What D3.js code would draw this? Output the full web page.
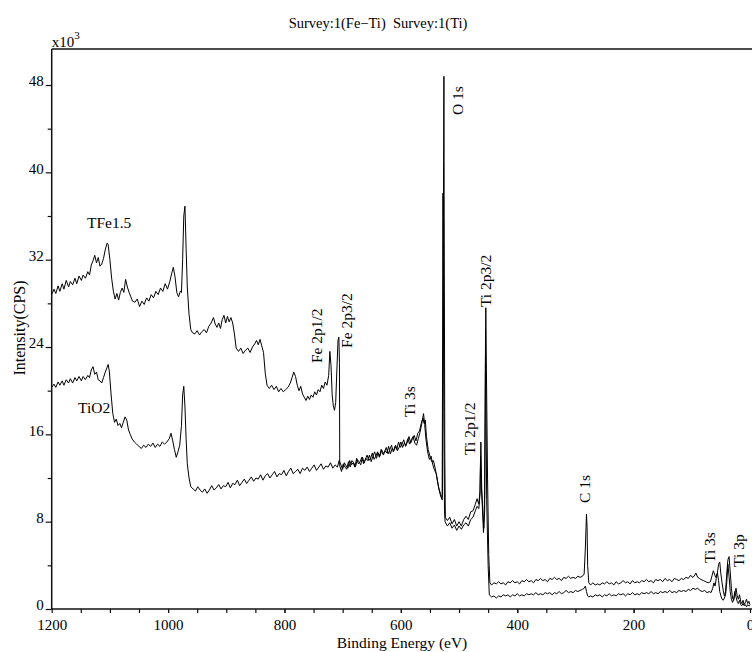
<!DOCTYPE html>
<html>
<head>
<meta charset="utf-8">
<script src="https://cdn.jsdelivr.net/npm/d3@7"></script>
<style>
  body { margin: 0; background: #fff; }
  svg text { font-family: "Liberation Serif", "Times New Roman", serif; fill: #000; }
</style>
</head>
<body>
<svg id="chart" width="752" height="652"></svg>
<script>
//axis ticks
var xMajor = [1200, 1000, 800, 600, 400, 200, 0];
var yMajor = [0, 8, 16, 24, 32, 40, 48];

//spectrum TFe1.5 : [binding energy (eV), intensity (x10^3 CPS)]
var tfe15 = [
  [1200, 28.8], [1196, 29.3], [1193, 28.9], [1189, 29.6], [1186, 29.1], [1182, 29.8], [1179, 29.3], [1175, 30.1],
  [1171, 29.5], [1168, 30.0], [1164, 29.7], [1160, 30.3], [1157, 29.8], [1153, 30.5], [1149, 30.1], [1146, 30.6],
  [1142, 30.3], [1138, 30.9], [1135, 30.6], [1132, 31.5], [1129, 31.9], [1126, 32.4], [1123, 31.7], [1120, 32.2],
  [1117, 31.4], [1114, 31.6], [1111, 32.1], [1108, 32.9], [1105, 33.5], [1103, 33.4], [1100, 32.0], [1097, 30.3],
  [1094, 29.1], [1091, 28.4], [1088, 28.9], [1085, 28.3], [1082, 29.0], [1079, 29.4], [1076, 29.0], [1073, 30.2],
  [1070, 29.5], [1067, 29.0], [1064, 28.6], [1061, 28.2], [1057, 28.1], [1053, 28.4], [1049, 27.7], [1045, 28.2],
  [1041, 27.9], [1037, 28.5], [1033, 28.2], [1029, 28.8], [1025, 28.5], [1021, 29.1], [1017, 28.8], [1013, 29.4],
  [1009, 29.1], [1005, 29.8], [1001, 29.3], [997, 30.0], [994, 30.7], [991, 31.3], [988, 30.4], [985, 29.0],
  [982, 28.6], [979, 29.1], [977, 29.0], [975, 32.0], [973, 36.0], [971, 36.9], [969, 33.0], [967, 29.5],
  [964, 27.0], [961, 25.6], [958, 25.3], [954, 25.2], [950, 25.5], [946, 25.1], [942, 25.4], [938, 25.6],
  [934, 25.3], [930, 25.9], [926, 26.2], [922, 26.7], [919, 26.1], [916, 25.8], [913, 26.2], [910, 25.7],
  [907, 26.5], [904, 26.9], [901, 26.2], [898, 26.8], [895, 26.3], [892, 26.7], [889, 26.2], [886, 25.2],
  [883, 23.9], [879, 23.6], [875, 23.9], [871, 23.4], [867, 23.7], [863, 23.9], [859, 23.5], [855, 24.0],
  [851, 24.3], [848, 24.6], [845, 24.2], [842, 24.7], [839, 24.1], [836, 23.5], [833, 21.6], [830, 20.5],
  [826, 20.2], [822, 20.5], [818, 20.1], [814, 20.4], [810, 19.9], [806, 20.2], [802, 19.9], [798, 20.1],
  [794, 20.3], [790, 20.7], [787, 21.2], [784, 21.7], [781, 21.3], [778, 20.5], [775, 20.0], [772, 20.4],
  [769, 19.7], [766, 19.4], [763, 19.1], [760, 19.5], [757, 19.2], [754, 19.6], [751, 19.4], [748, 19.9],
  [745, 19.6], [742, 20.1], [739, 19.9], [736, 20.5], [733, 20.2], [730, 20.8], [727, 20.5], [724, 21.4],
  [722, 23.6], [720, 22.3], [718, 19.6], [716, 18.6], [714, 18.2], [712, 18.9], [710, 21.8], [708, 24.6],
  [706.5, 24.9], [705.5, 22.5], [705, 13.1], [702, 12.6], [699, 13.3], [696, 13.0], [693, 12.8], [690, 13.5],
  [687, 13.0], [684, 13.6], [681, 13.4], [678, 13.0], [675, 13.7], [672, 13.5], [669, 13.2], [666, 13.9],
  [663, 13.4], [660, 13.8], [657, 13.6], [654, 14.1], [651, 13.5], [648, 14.0], [645, 14.4], [642, 13.8],
  [639, 14.3], [636, 14.0], [633, 14.6], [630, 14.1], [627, 14.5], [624, 14.3], [621, 14.9], [618, 14.2],
  [615, 14.7], [612, 14.5], [609, 15.0], [606, 14.5], [603, 14.8], [600, 15.3], [597, 14.8], [594, 15.2],
  [591, 15.0], [588, 15.6], [585, 15.1], [582, 15.5], [579, 15.8], [576, 15.2], [573, 15.0], [570, 15.6],
  [567, 16.2], [564, 17.0], [561, 17.9], [559, 16.9], [557, 15.6], [554, 14.4], [551, 13.7], [548, 14.0],
  [545, 13.2], [542, 12.7], [539, 12.4], [536, 11.4], [533, 10.6], [530, 10.1], [528.5, 10.4], [527.5, 22.0],
  [526.5, 41.0], [526, 48.8], [525.5, 36.0], [524.5, 14.0], [523.5, 8.4], [520, 8.1], [516, 8.4], [512, 7.8],
  [508, 8.2], [504, 7.6], [500, 8.0], [496, 7.6], [492, 8.2], [488, 8.5], [484, 8.2], [480, 8.9],
  [476, 9.0], [472, 9.6], [469, 10.1], [466, 9.6], [464, 10.8], [462.5, 15.3], [461, 11.0], [459, 8.8],
  [457.5, 7.4], [456, 10.5], [455, 20.0], [454, 27.6], [453, 22.0], [451, 12.0], [449, 5.0], [447, 2.4],
  [444, 2.2], [440, 2.4], [436, 2.3], [432, 2.5], [428, 2.3], [424, 2.4], [420, 2.2], [416, 2.5],
  [412, 2.4], [408, 2.6], [404, 2.4], [400, 2.5], [396, 2.3], [392, 2.6], [388, 2.5], [384, 2.7],
  [380, 2.5], [376, 2.6], [372, 2.4], [368, 2.7], [364, 2.6], [360, 2.8], [356, 2.6], [352, 2.7],
  [348, 2.5], [344, 2.8], [340, 2.7], [336, 2.9], [332, 2.7], [328, 2.8], [324, 2.6], [320, 2.9],
  [316, 2.8], [312, 3.0], [308, 2.8], [304, 2.9], [300, 2.8], [296, 3.0], [292, 2.9], [288, 3.0],
  [285, 3.2], [283, 5.5], [281, 8.7], [280, 7.5], [279, 4.0], [277, 2.4], [274, 2.2], [270, 2.4],
  [266, 2.2], [262, 2.3], [258, 2.2], [254, 2.4], [250, 2.3], [246, 2.5], [242, 2.3], [238, 2.4],
  [234, 2.2], [230, 2.5], [226, 2.3], [222, 2.4], [218, 2.6], [214, 2.4], [210, 2.5], [206, 2.3],
  [202, 2.6], [198, 2.4], [194, 2.5], [190, 2.4], [186, 2.6], [182, 2.5], [178, 2.7], [174, 2.5],
  [170, 2.6], [166, 2.4], [162, 2.7], [158, 2.6], [154, 2.7], [150, 2.5], [146, 2.8], [142, 2.6],
  [138, 2.7], [134, 2.5], [130, 2.8], [126, 2.7], [122, 2.6], [118, 2.8], [114, 2.7], [110, 2.9],
  [106, 2.8], [102, 3.1], [99, 2.9], [96, 3.0], [93, 3.3], [90, 2.9], [87, 2.8], [84, 2.7],
  [80, 2.6], [76, 2.5], [72, 2.4], [68, 2.5], [65, 3.1], [63, 3.5], [61, 3.2], [59, 2.9],
  [56, 3.3], [54, 4.1], [52, 4.3], [50, 3.2], [48, 2.4], [46, 1.7], [44, 1.2], [42, 1.6],
  [40, 3.2], [38, 4.5], [36, 4.8], [34, 3.4], [32, 1.9], [30, 1.0], [28, 0.8], [26, 1.5],
  [24, 1.9], [22, 1.2], [20, 0.9], [18, 1.3], [16, 0.7], [14, 0.5], [12, 0.8], [10, 0.4],
  [8, 0.6], [6, 0.9], [4, 0.5], [2, 0.7], [0, 0.4]
];

//spectrum TiO2
var tio2 = [
  [1200, 20.3], [1196, 20.6], [1193, 20.3], [1189, 20.8], [1186, 20.5], [1182, 20.9], [1179, 20.5], [1175, 21.0],
  [1171, 20.7], [1168, 21.1], [1164, 20.7], [1160, 21.2], [1157, 20.9], [1153, 21.3], [1149, 20.9], [1146, 21.3],
  [1142, 21.0], [1138, 21.4], [1135, 21.2], [1132, 21.9], [1129, 22.2], [1126, 21.5], [1123, 21.7], [1120, 21.0],
  [1117, 20.9], [1114, 20.7], [1111, 21.2], [1108, 21.7], [1105, 22.1], [1103, 22.4], [1101, 21.8], [1098, 19.7],
  [1095, 17.9], [1092, 17.1], [1089, 17.4], [1086, 16.8], [1083, 17.0], [1080, 16.6], [1077, 17.1], [1074, 17.6],
  [1071, 17.3], [1068, 16.4], [1065, 16.0], [1062, 15.6], [1058, 15.3], [1054, 15.1], [1050, 14.9], [1046, 14.7],
  [1042, 15.0], [1038, 14.8], [1034, 15.1], [1030, 14.9], [1026, 15.2], [1022, 14.8], [1018, 15.1], [1014, 14.9],
  [1010, 15.3], [1006, 15.1], [1002, 15.3], [998, 15.6], [995, 16.1], [992, 15.4], [989, 14.6], [986, 13.9],
  [983, 14.4], [980, 15.0], [977, 16.8], [975, 19.6], [973, 20.4], [971, 18.5], [969, 15.6], [967, 13.3],
  [964, 12.0], [961, 11.2], [957, 11.0], [953, 10.8], [949, 11.2], [945, 10.9], [941, 10.7], [937, 11.0],
  [933, 10.6], [929, 10.9], [925, 11.3], [921, 10.9], [917, 11.1], [913, 11.4], [909, 11.0], [905, 11.3],
  [901, 11.2], [897, 11.6], [893, 11.1], [889, 11.5], [885, 11.4], [881, 11.8], [877, 11.3], [873, 11.6],
  [869, 11.9], [865, 11.5], [861, 11.8], [857, 12.1], [853, 11.7], [849, 12.0], [845, 11.9], [841, 12.3],
  [837, 11.8], [833, 12.2], [829, 12.4], [825, 12.0], [821, 12.3], [817, 12.6], [813, 12.1], [809, 12.4],
  [805, 12.3], [801, 12.7], [797, 12.2], [793, 12.6], [789, 12.9], [785, 12.4], [781, 12.6], [777, 12.8],
  [773, 12.4], [769, 12.9], [765, 12.7], [761, 13.0], [757, 12.6], [753, 12.9], [749, 13.2], [745, 12.7],
  [741, 13.0], [737, 13.3], [733, 12.8], [729, 13.1], [725, 13.0], [721, 13.4], [717, 12.9], [713, 13.2],
  [709, 13.0], [706, 13.6], [703, 13.2], [700, 12.8], [697, 13.4], [694, 13.1], [691, 12.9], [688, 13.6],
  [685, 13.2], [682, 13.4], [679, 13.0], [676, 13.8], [673, 13.3], [670, 13.5], [667, 13.9], [664, 13.3],
  [661, 13.7], [658, 14.1], [655, 13.6], [652, 13.8], [649, 14.3], [646, 13.7], [643, 14.0], [640, 14.4],
  [637, 13.9], [634, 14.6], [631, 14.2], [628, 14.4], [625, 14.8], [622, 14.2], [619, 14.6], [616, 15.0],
  [613, 14.4], [610, 14.9], [607, 14.6], [604, 15.3], [601, 14.8], [598, 15.1], [595, 15.5], [592, 14.9],
  [589, 15.3], [586, 15.8], [583, 15.2], [580, 15.6], [577, 15.9], [574, 15.4], [571, 16.1], [568, 16.3],
  [565, 17.0], [562, 17.5], [560, 17.0], [558, 17.3], [556, 15.8], [553, 14.6], [550, 14.0], [547, 13.5],
  [544, 13.6], [541, 12.9], [538, 12.0], [535, 11.1], [532, 10.6], [530, 10.2], [529, 10.0], [528.2, 25.0],
  [527.6, 38.1], [527, 30.0], [526, 18.0], [525, 9.0], [524, 8.0], [520, 7.6], [516, 7.9], [512, 7.4],
  [508, 7.7], [504, 7.2], [500, 7.6], [496, 7.3], [492, 7.7], [488, 7.9], [484, 7.6], [480, 8.2],
  [476, 8.4], [472, 9.0], [469, 9.4], [466, 9.2], [464, 10.5], [463, 14.0], [462, 11.5], [460, 9.5],
  [458, 7.0], [456, 9.0], [455, 18.0], [454.5, 25.5], [454, 21.0], [452.5, 10.0], [450, 4.0], [448, 1.3],
  [444, 1.1], [440, 1.2], [436, 1.0], [432, 1.2], [428, 1.1], [424, 1.3], [420, 1.2], [416, 1.3],
  [412, 1.1], [408, 1.3], [404, 1.2], [400, 1.4], [396, 1.2], [392, 1.3], [388, 1.2], [384, 1.4],
  [380, 1.3], [376, 1.4], [372, 1.3], [368, 1.5], [364, 1.3], [360, 1.4], [356, 1.3], [352, 1.5],
  [348, 1.4], [344, 1.5], [340, 1.3], [336, 1.5], [332, 1.4], [328, 1.6], [324, 1.4], [320, 1.5],
  [316, 1.7], [312, 1.5], [308, 1.6], [304, 1.5], [300, 1.7], [296, 1.6], [292, 1.7], [288, 1.8],
  [285, 1.9], [283, 2.1], [281, 1.6], [279, 1.2], [277, 1.1], [274, 1.2], [270, 1.1], [266, 1.3],
  [262, 1.2], [258, 1.3], [254, 1.1], [250, 1.3], [246, 1.2], [242, 1.4], [238, 1.2], [234, 1.3],
  [230, 1.2], [226, 1.4], [222, 1.3], [218, 1.4], [214, 1.2], [210, 1.4], [206, 1.3], [202, 1.5],
  [198, 1.3], [194, 1.4], [190, 1.3], [186, 1.5], [182, 1.4], [178, 1.5], [174, 1.4], [170, 1.6],
  [166, 1.4], [162, 1.5], [158, 1.4], [154, 1.6], [150, 1.5], [146, 1.6], [142, 1.5], [138, 1.7],
  [134, 1.5], [130, 1.6], [126, 1.5], [122, 1.7], [118, 1.6], [114, 1.7], [110, 1.6], [106, 1.8],
  [102, 1.7], [98, 1.9], [94, 1.8], [90, 1.9], [86, 1.7], [82, 1.6], [78, 1.7], [74, 1.5],
  [70, 1.6], [67, 1.5], [64, 1.9], [62, 2.4], [60, 2.1], [58, 2.8], [56, 3.3], [54, 2.6],
  [52, 1.6], [50, 1.2], [48, 0.9], [46, 0.8], [44, 1.0], [42, 1.3], [40, 2.4], [38, 4.1],
  [36, 3.0], [34, 1.6], [32, 0.9], [30, 0.6], [28, 0.9], [26, 1.6], [24, 1.1], [22, 0.7],
  [20, 0.5], [18, 0.8], [16, 0.4], [14, 0.3], [12, 0.5], [10, 0.3], [8, 0.4], [6, 0.2],
  [4, 0.4], [2, 0.3], [0, 0.3]
];

//peak labels (rotated), anchored at [binding energy, intensity]
var peakNames = ["O 1s", "Ti 2p3/2", "Fe 2p1/2", "Fe 2p3/2", "Ti 3s", "Ti 2p1/2", "C 1s", "Ti 3s", "Ti 3p"];
var peakBE    = [493, 445, 735.5, 684, 575.7, 472.6, 275, 60, 10.3];
var peakInt   = [45.25, 27.66, 22.53, 23.91, 17.59, 14.11, 9.71, 4.21, 3.85];

//sample labels
var sampleNames = ["TFe1.5", "TiO2"];
var sampleBE    = [1139.3, 1154.8];
var sampleInt   = [34.9, 17.95];

// -- format svg element
var svg = d3.select("#chart");
var plotLeft = 51.7, plotRight = 750, plotTop = 49, plotBottom = 609;

// -- scales
var x = d3.scaleLinear().domain([1200, 0]).range([plotLeft, plotRight]);
var y = d3.scaleLinear().domain([0, 51.3]).range([plotBottom, plotTop]);

svg.append("defs").append("clipPath").attr("id", "plot")
  .append("rect").attr("x", plotLeft).attr("y", plotTop)
  .attr("width", 752 - plotLeft).attr("height", plotBottom - plotTop);

// -- spectra
var line = d3.line()
  .x(function(d) { return x(d[0]); })
  .y(function(d) { return y(d[1]); });

[tio2, tfe15].forEach(function(s) {
  svg.append("path")
    .datum(s)
    .attr("clip-path", "url(#plot)")
    .attr("fill", "none")
    .attr("stroke", "#000")
    .attr("stroke-width", 1)
    .attr("stroke-linejoin", "round")
    .attr("d", line);
});

// -- x axis (major + minor ticks)
var xAxis = svg.append("g")
  .attr("transform", "translate(0," + plotBottom + ")")
  .call(d3.axisBottom(x).tickValues(xMajor).tickSize(4).tickPadding(6).tickFormat(d3.format("d")));
svg.append("g")
  .attr("transform", "translate(0," + plotBottom + ")")
  .call(d3.axisBottom(x).tickValues(d3.range(1150, 0, -50)).tickSize(4).tickFormat(""));
xAxis.selectAll("text").style("font-size", "15px").style("font-family", "Liberation Serif");

// -- y axis (major + minor ticks)
var yAxis = svg.append("g")
  .attr("transform", "translate(" + plotLeft + ",0)")
  .call(d3.axisLeft(y).tickValues(yMajor).tickSize(6).tickPadding(2));
svg.append("g")
  .attr("transform", "translate(" + plotLeft + ",0)")
  .call(d3.axisLeft(y).tickValues([4, 12, 20, 28, 36, 44]).tickSize(4).tickFormat(""));
yAxis.selectAll("text").attr("dy", "0.05em").style("font-size", "15px").style("font-family", "Liberation Serif");

svg.selectAll(".domain").remove();
svg.selectAll(".tick line").attr("stroke", "#111").attr("stroke-width", 1.2);

// -- frame lines
svg.append("line").attr("x1", plotLeft).attr("x2", 752).attr("y1", plotTop).attr("y2", plotTop)
  .attr("stroke", "#111").attr("stroke-width", 1.5);
svg.append("line").attr("x1", plotLeft).attr("x2", 752).attr("y1", plotBottom).attr("y2", plotBottom)
  .attr("stroke", "#111").attr("stroke-width", 1.5);
svg.append("line").attr("x1", plotLeft).attr("x2", plotLeft).attr("y1", plotTop).attr("y2", plotBottom)
  .attr("stroke", "#111").attr("stroke-width", 1.5);

// -- multiplier
var mult = svg.append("text").attr("x", plotLeft).attr("y", 47).style("font-size", "15px");
mult.append("tspan").text("x10");
mult.append("tspan").attr("dy", -8).style("font-size", "11px").text("3");

// -- title and axis titles
svg.append("text")
  .attr("x", 378).attr("y", 28)
  .attr("text-anchor", "middle")
  .style("font-size", "14.5px")
  .style("white-space", "pre")
  .text("Survey:1(Fe\u2212Ti)  Survey:1(Ti)");

svg.append("text")
  .attr("x", 402).attr("y", 648)
  .attr("text-anchor", "middle")
  .style("font-size", "15.5px")
  .text("Binding Energy (eV)");

svg.append("text")
  .attr("transform", "translate(25,328) rotate(-90)")
  .attr("text-anchor", "middle")
  .style("font-size", "16px")
  .text("Intensity(CPS)");

// -- peak labels
peakNames.forEach(function(n, i) {
  svg.append("text")
    .attr("transform", "translate(" + x(peakBE[i]) + "," + y(peakInt[i]) + ") rotate(-90)")
    .style("font-size", "15.5px")
    .text(n);
});

// -- sample labels
sampleNames.forEach(function(n, i) {
  svg.append("text")
    .attr("x", x(sampleBE[i])).attr("y", y(sampleInt[i]))
    .style("font-size", "15.5px")
    .text(n);
});
</script>
</body>
</html>
